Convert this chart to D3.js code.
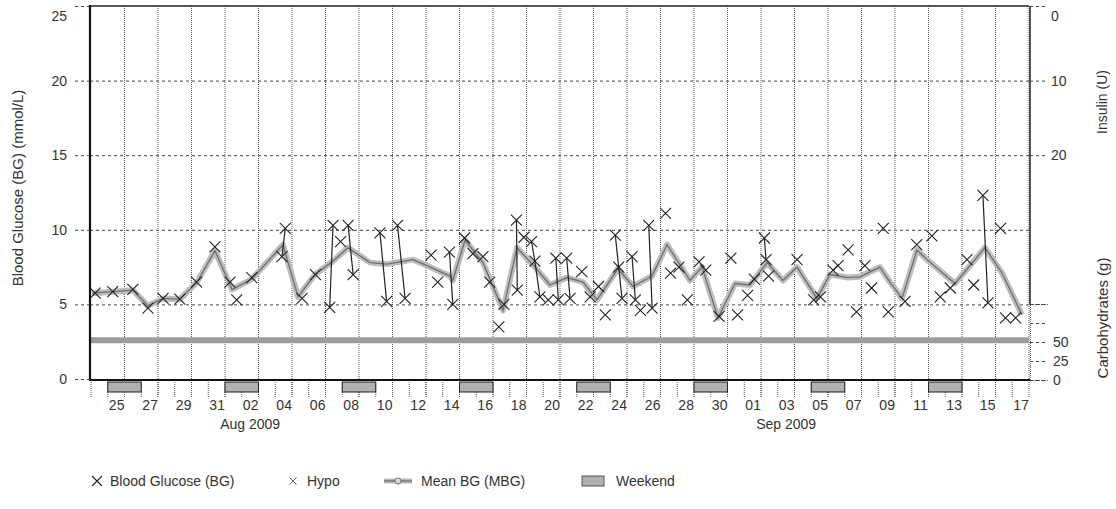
<!DOCTYPE html>
<html>
<head>
<meta charset="utf-8">
<script src="https://cdn.jsdelivr.net/npm/d3@7"></script>
<style>
body { margin: 0; background: #fff; }
text { font-family: "Liberation Sans", Arial, sans-serif; fill: #333; }
</style>
</head>
<body>
<script>
// Dates
const startDate = '2009-07-24'
const endDate = '2009-09-18'
const xTickDays = ['2009-07-25', '2009-07-27', '2009-07-29', '2009-07-31',
    '2009-08-02', '2009-08-04', '2009-08-06', '2009-08-08', '2009-08-10', '2009-08-12',
    '2009-08-14', '2009-08-16', '2009-08-18', '2009-08-20', '2009-08-22', '2009-08-24',
    '2009-08-26', '2009-08-28', '2009-08-30', '2009-09-01', '2009-09-03', '2009-09-05',
    '2009-09-07', '2009-09-09', '2009-09-11', '2009-09-13', '2009-09-15', '2009-09-17']
const monthLabels = [['2009-08-02', 'Aug 2009'], ['2009-09-03', 'Sep 2009']]
const weekendStarts = ['2009-07-25', '2009-08-01', '2009-08-08', '2009-08-15',
    '2009-08-22', '2009-08-29', '2009-09-05', '2009-09-12']

// Axes
const bgTicks = [0, 5, 10, 15, 20, 25]
const insulinTicks = [0, 10, 20]
const carbTicks = [0, 25, 50, 75, 100]
const carbLabels = ['0', '25', '50', '', '']
const bandBG = 2.6

// Blood glucose readings: [days since start, mmol/L], grouped when joined by a line
const bgSessions = [
    [[0.25, 5.75]], [[1.3, 5.85]], [[2.5, 6.0]], [[3.4, 4.75]], [[4.3, 5.4]],
    [[5.3, 5.35]], [[6.3, 6.5]], [[7.4, 8.85]], [[8.3, 6.5]], [[8.7, 5.3]],
    [[9.6, 6.8]], [[11.4, 8.2], [11.6, 10.1]], [[12.6, 5.4]], [[13.4, 7.0]],
    [[14.25, 4.8], [14.45, 10.3]], [[14.9, 9.2]], [[15.35, 10.3], [15.65, 7.0]],
    [[17.25, 9.8], [17.65, 5.2]], [[18.3, 10.3], [18.75, 5.4]], [[20.3, 8.3]],
    [[20.7, 6.5]], [[21.4, 8.5], [21.6, 5.0]], [[22.3, 9.45]], [[22.8, 8.4]],
    [[23.4, 8.2]], [[23.8, 6.5]], [[24.35, 3.5]], [[24.65, 5.0]],
    [[25.4, 10.65], [25.45, 5.95]], [[25.85, 9.5]], [[26.3, 9.2], [26.5, 7.9], [26.8, 5.5]],
    [[27.3, 5.3]], [[27.75, 8.1], [27.9, 5.3]], [[28.4, 8.1], [28.6, 5.4]],
    [[29.3, 7.2]], [[29.8, 5.5]], [[30.3, 6.2]], [[30.7, 4.3]],
    [[31.3, 9.65], [31.7, 5.4]], [[31.5, 7.5]], [[32.3, 8.2], [32.5, 5.3]],
    [[32.8, 4.6]], [[33.3, 10.3], [33.5, 4.75]], [[34.3, 11.1]], [[34.6, 7.1]],
    [[35.1, 7.5]], [[35.6, 5.3]], [[36.3, 7.85]], [[36.7, 7.3]], [[37.5, 4.2]],
    [[38.2, 8.1]], [[38.6, 4.3]], [[39.2, 5.6]], [[39.6, 6.7]],
    [[40.2, 9.45], [40.3, 8.0]], [[40.45, 6.9]], [[42.15, 8.0]], [[43.15, 5.3]],
    [[43.55, 5.5]], [[44.3, 7.3]], [[44.6, 7.6]], [[45.2, 8.65]], [[45.7, 4.5]],
    [[46.2, 7.6]], [[46.6, 6.1]], [[47.3, 10.1]], [[47.6, 4.5]], [[48.6, 5.2]],
    [[49.3, 9.0]], [[50.2, 9.6]], [[50.7, 5.5]], [[51.3, 6.1]], [[52.3, 8.0]],
    [[52.7, 6.3]], [[53.25, 12.3], [53.55, 5.1]], [[54.3, 10.1]], [[54.6, 4.1]],
    [[55.2, 4.1]]
]

// Mean BG: [days since start, mmol/L]
const meanBG = [
    [0.06, 5.75], [1.31, 5.85], [2.51, 5.95], [3.4, 4.9], [4.3, 5.4], [5.31, 5.35],
    [6.33, 6.5], [7.4, 8.6], [8.42, 6.0], [9.61, 6.7], [11.46, 9.0], [12.36, 5.5],
    [13.37, 7.0], [14.45, 7.9], [15.34, 8.8], [16.66, 7.8], [17.67, 7.7], [19.22, 8.0],
    [20.06, 7.6], [21.43, 6.9], [21.6, 6.6], [22.33, 9.3], [23.4, 7.8], [24.6, 4.6],
    [25.43, 8.8], [26.51, 7.5], [27.4, 6.3], [28.42, 6.8], [29.37, 6.5], [30.21, 5.3],
    [31.46, 7.4], [32.36, 6.2], [33.49, 6.9], [34.39, 9.0], [35.76, 6.6], [36.48, 7.5],
    [37.43, 4.1], [38.45, 6.4], [39.34, 6.3], [40.36, 7.8], [41.31, 6.6], [42.15, 7.5],
    [43.34, 5.4], [44.12, 7.0], [45.19, 6.8], [45.91, 6.85], [47.1, 7.5], [47.7, 6.5],
    [48.42, 5.4], [49.31, 8.65], [49.91, 8.0], [51.58, 6.4], [53.37, 8.8], [54.39, 7.1],
    [55.58, 4.3]
]

const parse = d3.utcParse('%Y-%m-%d')
const t0 = parse(startDate)
const dayToDate = d => new Date(t0.getTime() + d * 864e5)
const noon = s => d3.utcHour.offset(parse(s), 12)

const pLeft = 90, pRight = 1029, pTop = 6, pBottom = 379

let svg = d3.select('body')
    .append('svg')
    .attr('width', 1116)
    .attr('height', 509)

let x = d3.scaleUtc().domain([t0, parse(endDate)]).range([91, pRight])
let y = d3.scaleLinear().domain([0, 25]).range([pBottom, pTop])
let yIns = d3.scaleLinear().domain([0, 50]).range([pTop, pBottom])
let yCarb = d3.scaleLinear().domain([0, 100]).range([380, 304])

const cross = r => `M${-r},${-r}L${r},${r}M${-r},${r}L${r},${-r}`

// Horizontal grid
let hGrid = svg.append('g')
    .attr('transform', `translate(${pLeft},0)`)
    .call(d3.axisRight(y).tickValues([5, 10, 15, 20]).tickSize(pRight - pLeft).tickFormat(''))
hGrid.select('.domain').remove()
hGrid.selectAll('line').attr('stroke', '#444').attr('stroke-dasharray', '3,3')

// Vertical grid
let gridDays = xTickDays.map(s => d3.utcDay.offset(parse(s), 1))
svg.append('g').selectAll('line')
    .data(gridDays)
    .enter()
    .append('line')
    .attr('x1', d => x(d)).attr('x2', d => x(d))
    .attr('y1', pTop).attr('y2', 398)
    .attr('stroke', '#555')
    .attr('stroke-dasharray', '1,1')

// Daily ticks below the axis
svg.append('g').selectAll('line')
    .data(d3.utcDay.range(t0, parse(endDate)))
    .enter()
    .append('line')
    .attr('x1', d => x(d)).attr('x2', d => x(d))
    .attr('y1', 382).attr('y2', 397)
    .attr('stroke', '#555')
    .attr('stroke-dasharray', '1,1')

// Band
svg.append('line')
    .attr('x1', pLeft).attr('x2', pRight)
    .attr('y1', y(bandBG)).attr('y2', y(bandBG))
    .attr('stroke', '#9c9c9c')
    .attr('stroke-width', 6)

// Mean BG
let meanLine = d3.line().x(d => x(dayToDate(d[0]))).y(d => y(d[1]))
svg.append('path')
    .attr('d', meanLine(meanBG))
    .attr('fill', 'none')
    .attr('stroke', '#bdbdbd')
    .attr('stroke-width', 6)
    .attr('stroke-linejoin', 'round')
svg.append('path')
    .attr('d', meanLine(meanBG))
    .attr('fill', 'none')
    .attr('stroke', '#707070')
    .attr('stroke-width', 1.3)

// BG readings
let bgLine = d3.line().x(d => x(dayToDate(d[0]))).y(d => y(d[1]))
svg.append('g').selectAll('path')
    .data(bgSessions.filter(s => s.length > 1))
    .enter()
    .append('path')
    .attr('d', bgLine)
    .attr('fill', 'none')
    .attr('stroke', '#222')
    .attr('stroke-width', 1.2)
svg.append('g').selectAll('path')
    .data(bgSessions.flat())
    .enter()
    .append('path')
    .attr('transform', d => `translate(${x(dayToDate(d[0]))},${y(d[1])})`)
    .attr('d', cross(5.5))
    .attr('stroke', '#222')
    .attr('stroke-width', 1.1)

// Frame
svg.append('line').attr('x1', pLeft).attr('x2', pRight).attr('y1', pTop).attr('y2', pTop)
    .attr('stroke', '#222').attr('stroke-width', 1.5)
svg.append('line').attr('x1', pLeft).attr('x2', pLeft).attr('y1', pTop - 1).attr('y2', 381)
    .attr('stroke', '#111').attr('stroke-width', 2.2)
svg.append('line').attr('x1', pLeft).attr('x2', pRight + 1).attr('y1', 380).attr('y2', 380)
    .attr('stroke', '#111').attr('stroke-width', 2.2)
svg.append('line').attr('x1', pRight + 1).attr('x2', pRight + 1).attr('y1', pTop).attr('y2', y(5))
    .attr('stroke', '#222').attr('stroke-width', 1.5)

// Weekends
svg.append('g').selectAll('rect')
    .data(weekendStarts.map(parse))
    .enter()
    .append('rect')
    .attr('x', d => x(d))
    .attr('y', 382)
    .attr('width', d => x(d3.utcDay.offset(d, 2)) - x(d))
    .attr('height', 10)
    .attr('fill', '#b0b0b0')
    .attr('stroke', '#222')

// Left axis
let gLeft = svg.append('g')
    .attr('transform', `translate(${pLeft},0)`)
    .call(d3.axisLeft(y).tickValues(bgTicks).tickSize(18).tickPadding(5))
gLeft.select('.domain').remove()
gLeft.selectAll('line').attr('stroke', '#444').attr('stroke-dasharray', '3,3')
gLeft.selectAll('text').attr('font-size', 14).attr('font-family', null).attr('fill', '#333')
    .attr('dy', d => d === 25 ? '1.0em' : '0.32em')

// Right axes
let gIns = svg.append('g')
    .attr('transform', `translate(${pRight + 1},0)`)
    .call(d3.axisRight(yIns).tickValues(insulinTicks).tickSize(16).tickPadding(5))
gIns.select('.domain').remove()
gIns.selectAll('line').attr('stroke', '#444').attr('stroke-dasharray', '3,3')
gIns.selectAll('text').attr('font-size', 14).attr('font-family', null).attr('fill', '#333')
    .attr('dy', d => d === 0 ? '1.0em' : '0.32em')

let gCarb = svg.append('g')
    .attr('transform', `translate(${pRight + 1},0)`)
    .call(d3.axisRight(yCarb).tickValues(carbTicks).tickSize(18).tickPadding(5)
        .tickFormat((d, i) => carbLabels[i]))
gCarb.select('.domain').attr('stroke', '#555').attr('stroke-dasharray', '1,1')
gCarb.selectAll('line').attr('stroke', '#444').attr('stroke-dasharray', '3,3')
gCarb.selectAll('text').attr('font-size', 14).attr('font-family', null).attr('fill', '#333')

// Bottom labels
let gBottom = svg.append('g')
    .attr('transform', 'translate(0,380)')
    .call(d3.axisBottom(x).tickValues(xTickDays.map(noon)).tickSize(0).tickPadding(20)
        .tickFormat(d3.utcFormat('%d')))
gBottom.select('.domain').remove()
gBottom.selectAll('text').attr('font-size', 14).attr('font-family', null).attr('fill', '#333')

svg.append('g').selectAll('text')
    .data(monthLabels)
    .enter()
    .append('text')
    .attr('x', d => x(noon(d[0])))
    .attr('y', 429)
    .attr('text-anchor', 'middle')
    .attr('font-size', 14)
    .text(d => d[1])

// Axis titles
svg.append('text')
    .attr('transform', 'translate(23,188) rotate(-90)')
    .attr('text-anchor', 'middle')
    .attr('font-size', 15)
    .text('Blood Glucose (BG) (mmol/L)')
svg.append('text')
    .attr('transform', 'translate(1107,102) rotate(-90)')
    .attr('text-anchor', 'middle')
    .attr('font-size', 14)
    .text('Insulin (U)')
svg.append('text')
    .attr('transform', 'translate(1108,318) rotate(-90)')
    .attr('text-anchor', 'middle')
    .attr('font-size', 15)
    .text('Carbohydrates (g)')

// Legend
let lg = svg.append('g').attr('transform', 'translate(0,481)')
lg.append('path').attr('transform', 'translate(97,0)').attr('d', cross(5))
    .attr('stroke', '#222').attr('stroke-width', 1.1)
lg.append('text').attr('x', 110).attr('y', 5).attr('font-size', 14).text('Blood Glucose (BG)')
lg.append('path').attr('transform', 'translate(293,0)').attr('d', cross(3.5))
    .attr('stroke', '#666').attr('stroke-width', 1)
lg.append('text').attr('x', 307).attr('y', 5).attr('font-size', 14).text('Hypo')
lg.append('line').attr('x1', 384).attr('x2', 412).attr('y1', 0).attr('y2', 0)
    .attr('stroke', '#b8b8b8').attr('stroke-width', 5)
lg.append('line').attr('x1', 384).attr('x2', 412).attr('y1', 0).attr('y2', 0)
    .attr('stroke', '#6a6a6a').attr('stroke-width', 1.2)
lg.append('circle').attr('cx', 398).attr('cy', 0).attr('r', 3)
    .attr('fill', '#d8d8d8').attr('stroke', '#777')
lg.append('text').attr('x', 421).attr('y', 5).attr('font-size', 14).text('Mean BG (MBG)')
lg.append('rect').attr('x', 582).attr('y', -5).attr('width', 22).attr('height', 10)
    .attr('fill', '#b0b0b0').attr('stroke', '#555')
lg.append('text').attr('x', 616).attr('y', 5).attr('font-size', 14).text('Weekend')
</script>
</body>
</html>
